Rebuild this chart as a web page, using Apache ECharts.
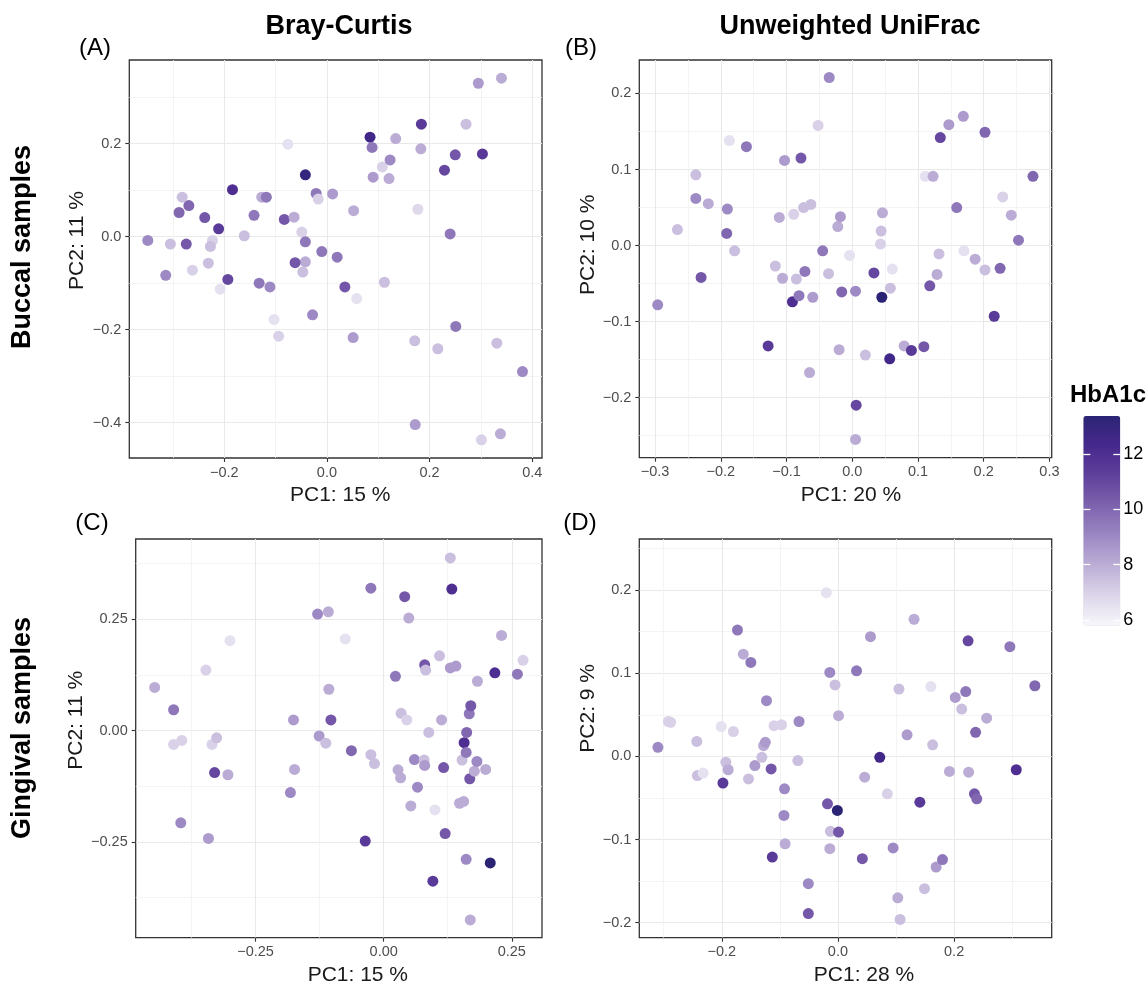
<!DOCTYPE html>
<html><head><meta charset="utf-8">
<script src="https://cdn.jsdelivr.net/npm/echarts@6/dist/echarts.min.js"></script>
<style>html,body{margin:0;padding:0;background:#fff}#chart{width:1147px;height:986px}</style>
</head><body><div id="chart"></div>
<script>
// ---- Panel A: Buccal, Bray-Curtis ----
const bucBrayX = [-0.349,-0.305,-0.314,-0.282,-0.288,-0.269,-0.274,-0.262,-0.238,-0.211,-0.223,-0.227,-0.231,-0.208,-0.193,-0.184,-0.161,-0.142,-0.132,-0.127,-0.118,-0.111,-0.103,-0.094,-0.083,-0.076,-0.064,-0.049,-0.042,-0.042,-0.042,-0.062,-0.047,-0.021,-0.017,-0.028,-0.010,0.011,0.020,0.035,0.052,0.051,0.058,0.084,0.088,0.090,0.108,0.112,0.123,0.121,0.134,0.171,0.172,0.177,0.183,0.184,0.216,0.229,0.240,0.250,0.251,0.271,0.295,0.301,0.303,0.331,0.338,0.340,0.381];
const bucBrayY = [-0.008,-0.016,-0.083,0.085,0.052,0.067,-0.016,-0.072,0.041,0.017,-0.008,-0.021,-0.057,-0.113,-0.092,0.101,0.002,0.046,-0.100,0.085,0.085,-0.108,-0.178,-0.214,0.037,0.199,0.042,0.010,0.133,-0.011,-0.054,-0.056,-0.076,0.093,0.081,-0.168,-0.032,0.092,-0.044,-0.108,0.056,-0.217,-0.133,0.214,0.192,0.128,0.150,-0.098,0.165,0.125,0.211,-0.224,-0.404,0.059,0.189,0.242,-0.241,0.143,0.006,0.176,-0.193,0.242,0.330,-0.437,0.178,-0.229,-0.424,0.341,-0.290];
const bucBrayHb = [9,7.5,9,7.5,10,10,10.5,7,10.5,11.5,7,7.5,7.5,6.5,11,12,7.5,9.5,9.5,8,9.5,9,6.5,7,10.5,6.5,8,7,13,9.5,8,10.5,7.5,9.5,7,9,9.5,8.5,9.5,10.5,8,8.5,6.5,12.5,9.5,8.5,7,7.5,9,8,8,7.5,8.5,6.8,8,11.5,7.5,11,9.5,10.5,9.5,7.5,8.5,7,11.5,7.5,8,8,9];

// ---- Panel B: Buccal, Unweighted UniFrac ----
const bucUniX = [-0.296,-0.266,-0.238,-0.238,-0.230,-0.219,-0.190,-0.191,-0.187,-0.179,-0.161,-0.128,-0.117,-0.111,-0.106,-0.103,-0.091,-0.089,-0.085,-0.081,-0.078,-0.074,-0.072,-0.063,-0.065,-0.060,-0.052,-0.045,-0.036,-0.035,-0.022,-0.020,-0.018,-0.016,-0.004,0.005,0.006,0.005,0.020,0.033,0.043,0.044,0.046,0.045,0.057,0.058,0.061,0.079,0.090,0.109,0.111,0.123,0.118,0.129,0.132,0.134,0.147,0.159,0.169,0.170,0.187,0.202,0.202,0.216,0.225,0.229,0.242,0.253,0.275];
const bucUniY = [-0.078,0.021,0.093,0.062,-0.042,0.055,0.048,0.016,0.138,-0.007,0.130,-0.132,-0.027,0.037,-0.043,0.112,-0.074,0.041,-0.044,-0.066,0.115,0.050,-0.034,0.054,-0.167,-0.068,0.158,-0.007,-0.037,0.221,0.025,-0.137,0.038,-0.061,-0.013,-0.060,-0.210,-0.255,-0.144,-0.036,0.002,0.019,0.043,-0.068,-0.149,-0.056,-0.031,-0.132,-0.138,-0.133,0.091,0.091,-0.053,-0.038,-0.011,0.142,0.159,0.050,0.170,-0.007,-0.018,-0.032,0.149,-0.093,-0.030,0.064,0.040,0.007,0.091];
const bucUniHb = [9,7.5,7.5,9,10.5,8,9,10,6.5,7.5,9.5,11.5,7.5,8,8,8.5,12,7,7.5,9.5,10.5,7.5,9.5,7.5,8,8.5,7,9.5,7.5,9,8,8,8.5,10,6.5,9,11,8,7.5,11,7,7.5,8,13.5,12.5,7.5,6.5,8,11.5,10.5,6.5,8,10.5,8,7.5,11,8.5,9.5,8.5,6.5,8,7.5,10,11.5,10,7,8,9.5,10];

// ---- Panel C: Gingival, Bray-Curtis ----
const ginBrayX = [-0.447,-0.410,-0.410,-0.394,-0.396,-0.347,-0.342,-0.335,-0.326,-0.330,-0.304,-0.300,-0.182,-0.176,-0.174,-0.129,-0.126,-0.113,-0.108,-0.107,-0.103,-0.075,-0.063,-0.036,-0.025,-0.025,-0.018,0.023,0.028,0.033,0.034,0.041,0.045,0.049,0.053,0.060,0.066,0.079,0.080,0.080,0.082,0.088,0.100,0.096,0.109,0.113,0.117,0.120,0.130,0.130,0.141,0.133,0.148,0.156,0.153,0.157,0.161,0.162,0.161,0.167,0.170,0.168,0.177,0.182,0.183,0.199,0.208,0.217,0.230,0.261,0.272,0.169];
const ginBrayY = [0.097,0.047,-0.031,-0.022,-0.207,0.136,-0.242,-0.031,-0.016,-0.094,-0.099,0.202,-0.139,0.024,-0.087,0.262,-0.012,-0.028,0.267,0.093,0.024,0.206,-0.045,-0.248,0.320,-0.054,-0.074,0.122,-0.088,-0.106,0.039,0.301,0.024,0.253,-0.169,-0.065,-0.127,-0.066,-0.078,0.148,0.136,-0.004,-0.178,-0.338,0.168,0.024,-0.083,-0.231,0.388,0.141,0.145,0.318,-0.163,-0.159,-0.066,-0.027,-0.049,-0.004,-0.289,0.038,0.056,-0.108,-0.091,-0.069,0.111,-0.087,-0.297,0.130,0.214,0.127,0.158,-0.425];
const ginBrayHb = [8,9.5,7,7,9,7,8.5,7,7.5,11,8,6.5,9,8.5,8,9,8.5,7.5,8,8,10.5,6.5,10,11.5,9.5,7.5,7.5,9.5,8,8,7.5,10.5,7,8,8,9,9,7.5,8.5,10.5,7.5,7.5,6.5,11.5,7.5,8,10.5,10.5,7.5,8.5,8.5,12,8,8,7.5,12,9.5,10,9,9.5,10.5,10.5,8,9,8,8,13.5,12,8,9.5,7,8];

// ---- Panel D: Gingival, Unweighted UniFrac ----
const ginUniX = [-0.310,-0.292,-0.288,-0.243,-0.242,-0.232,-0.201,-0.198,-0.193,-0.189,-0.180,-0.173,-0.163,-0.154,-0.150,-0.143,-0.131,-0.128,-0.125,-0.123,-0.115,-0.113,-0.110,-0.097,-0.092,-0.093,-0.091,-0.069,-0.067,-0.051,-0.051,-0.020,-0.018,-0.014,-0.014,-0.013,-0.005,-0.001,0.001,0.001,0.032,0.042,0.046,0.056,0.072,0.085,0.095,0.103,0.105,0.107,0.119,0.131,0.141,0.149,0.160,0.163,0.169,0.180,0.192,0.202,0.213,0.220,0.224,0.225,0.235,0.239,0.237,0.256,0.296,0.307,0.339];
const ginUniY = [0.011,0.042,0.041,0.018,-0.023,-0.020,0.036,-0.032,-0.007,-0.016,0.030,0.152,0.123,-0.027,0.113,-0.011,-0.001,0.013,0.017,0.067,-0.015,-0.121,0.037,0.038,-0.039,-0.071,-0.105,-0.005,0.042,-0.153,-0.189,0.197,-0.057,0.101,-0.111,-0.090,0.086,-0.065,-0.091,0.049,0.103,-0.123,-0.025,0.144,-0.001,-0.045,-0.110,-0.170,0.081,-0.196,0.026,0.165,-0.055,-0.159,0.084,0.014,-0.133,-0.124,-0.018,0.071,0.057,0.078,0.139,-0.019,-0.045,-0.051,0.029,0.046,0.132,-0.016,0.085];
const ginUniHb = [9,7,7,7.5,7.5,6.5,6.5,11.5,7.5,8,7,9.5,8,7.5,9.5,8.5,7.5,8,8.5,9,10.5,11.5,7,7,9,9,8,7.5,9,9,10.5,6.5,10.5,9,8,7.5,7.5,13.5,10.5,8,9.5,10.5,8,8.5,12.5,7,9,8,7.5,7.5,8.5,8,11.5,7.5,6.5,7.5,8.5,9.5,8,8.5,7.5,9.5,11,8,10.5,10,10,8,9.5,12,10];

// ---- Tick labels ----
const ticksAx = ['-0.2','0.0','0.2','0.4'];
const ticksAy = ['-0.4','-0.2','0.0','0.2'];
const minorAx = [-0.3,-0.1,0.1,0.3];
const minorAy = [-0.3,-0.1,0.1,0.3];
const ticksBx = ['-0.3','-0.2','-0.1','0.0','0.1','0.2','0.3'];
const ticksBy = ['-0.2','-0.1','0.0','0.1','0.2'];
const minorBx = [-0.25,-0.15,-0.05,0.05,0.15,0.25];
const minorBy = [-0.25,-0.15,-0.05,0.05,0.15];
const ticksCx = ['-0.25','0.00','0.25'];
const ticksCy = ['-0.25','0.00','0.25'];
const minorCx = [-0.375,-0.125,0.125];
const minorCy = [-0.375,-0.125,0.125,0.375];
const ticksDx = ['-0.2','0.0','0.2'];
const ticksDy = ['-0.2','-0.1','0.0','0.1','0.2'];
const minorDx = [-0.3,-0.1,0.1,0.3];
const minorDy = [-0.15,-0.05,0.05,0.15,0.25];
const legendTicks = ['6','8','10','12'];
const hbMin = 5.79, hbMax = 13.37;

const colTitles = ['Bray-Curtis','Unweighted UniFrac'];
const rowTitles = ['Buccal samples','Gingival samples'];
const panelTags = ['(A)','(B)','(C)','(D)'];
const xNames = ['PC1: 15 %','PC1: 20 %','PC1: 15 %','PC1: 28 %'];
const yNames = ['PC2: 11 %','PC2: 10 %','PC2: 11 %','PC2: 9 %'];

const FONT = "'Liberation Sans', Arial, Helvetica, sans-serif";

const panels = [
  {x:bucBrayX,y:bucBrayY,hb:bucBrayHb,tx:ticksAx,ty:ticksAy,mx:minorAx,my:minorAy,
   rect:[129.3,60,412.7,398],xr:[-0.385,0.419],yr:[-0.476,0.38],xPad:9,yPad:37,yGap:42},
  {x:bucUniX,y:bucUniY,hb:bucUniHb,tx:ticksBx,ty:ticksBy,mx:minorBx,my:minorBy,
   rect:[639.3,60,412.4,397.7],xr:[-0.324,0.3035],yr:[-0.279,0.244],xPad:11,yPad:28,yGap:41},
  {x:ginBrayX,y:ginBrayY,hb:ginBrayHb,tx:ticksCx,ty:ticksCy,mx:minorCx,my:minorCy,
   rect:[135.7,539,406.3,398.7],xr:[-0.484,0.309],yr:[-0.465,0.4305],xPad:38,yPad:36,yGap:48},
  {x:ginUniX,y:ginUniY,hb:ginUniHb,tx:ticksDx,ty:ticksDy,mx:minorDx,my:minorDy,
   rect:[639.3,539,412.4,398.7],xr:[-0.342,0.368],yr:[-0.218,0.2615],xPad:37,yPad:60,yGap:41}
];

function fmtFor(labels){
  return function(v){
    for (const s of labels){ if (Math.abs(Number(s)-v) < 1e-9) return s.replace('-','\u2212'); }
    return '';
  };
}

const grids = [], xAxes = [], yAxes = [], series = [];
panels.forEach((p,i)=>{
  grids.push({left:p.rect[0],top:p.rect[1],width:p.rect[2],height:p.rect[3],show:true,
    borderColor:'#333333',borderWidth:1.3,backgroundColor:'transparent',outerBoundsMode:'none'});
});
panels.forEach((p,i)=>{
  grids.push({left:p.rect[0],top:p.rect[1],width:p.rect[2],height:p.rect[3],show:false,outerBoundsMode:'none'});
});
// major axes
panels.forEach((p,i)=>{
  const xv = p.tx.map(Number), yv = p.ty.map(Number);
  xAxes.push({gridIndex:i,type:'value',min:p.xr[0],max:p.xr[1],position:'bottom',
    axisLine:{show:false,onZero:false},
    axisTick:{show:true,customValues:xv,length:4,lineStyle:{color:'#333333',width:1.1}},
    axisLabel:{customValues:xv,formatter:fmtFor(p.tx),color:'#4d4d4d',fontSize:14.5,margin:7,fontFamily:FONT},
    splitLine:{show:true,lineStyle:{color:'#e9e9e9',width:1.1}},
    name:xNames[i],nameLocation:'middle',nameGap:27,
    nameTextStyle:{fontSize:21,color:'#1a1a1a',fontFamily:FONT,padding:[0,0,0,p.xPad]}});
  yAxes.push({gridIndex:i,type:'value',min:p.yr[0],max:p.yr[1],position:'left',
    axisLine:{show:false,onZero:false},
    axisTick:{show:true,customValues:yv,length:4,lineStyle:{color:'#333333',width:1.1}},
    axisLabel:{customValues:yv,formatter:fmtFor(p.ty),color:'#4d4d4d',fontSize:14.5,margin:8,fontFamily:FONT},
    splitLine:{show:true,lineStyle:{color:'#e9e9e9',width:1.1}},
    name:yNames[i],nameLocation:'middle',nameGap:p.yGap,
    nameTextStyle:{fontSize:21,color:'#1a1a1a',fontFamily:FONT,padding:[0,0,0,p.yPad]}});
});
// minor gridline axes
panels.forEach((p,i)=>{
  xAxes.push({gridIndex:i+4,type:'value',min:p.xr[0],max:p.xr[1],position:'bottom',
    axisLine:{show:false,onZero:false},axisTick:{show:false,customValues:p.mx},axisLabel:{show:false},
    splitLine:{show:true,lineStyle:{color:'#f1f1f1',width:0.8}}});
  yAxes.push({gridIndex:i+4,type:'value',min:p.yr[0],max:p.yr[1],position:'left',
    axisLine:{show:false,onZero:false},axisTick:{show:false,customValues:p.my},axisLabel:{show:false},
    splitLine:{show:true,lineStyle:{color:'#f1f1f1',width:0.8}}});
});
// legend colour bar axes
grids.push({left:1083.3,top:416,width:37,height:209.7,show:false,outerBoundsMode:'none'});
const lv = legendTicks.map(Number);
xAxes.push({gridIndex:8,type:'value',min:0,max:1,show:false,axisLine:{onZero:false}});
yAxes.push({gridIndex:8,type:'value',min:hbMin,max:hbMax,position:'right',z:10,
  axisLine:{show:false,onZero:false},
  axisTick:{show:true,inside:true,customValues:lv,length:7,lineStyle:{color:'#ffffff',width:1.3}},
  axisLabel:{customValues:lv,color:'#000000',fontSize:18,margin:3,fontFamily:FONT},
  splitLine:{show:false}});
yAxes.push({gridIndex:8,type:'value',min:hbMin,max:hbMax,position:'left',z:10,
  axisLine:{show:false,onZero:false},
  axisTick:{show:true,inside:true,customValues:lv,length:7,lineStyle:{color:'#ffffff',width:1.3}},
  axisLabel:{show:false},splitLine:{show:false}});

panels.forEach((p,i)=>{
  series.push({type:'scatter',xAxisIndex:i,yAxisIndex:i,symbolSize:11,
    itemStyle:{opacity:1},emphasis:{disabled:true},
    data:p.x.map((v,k)=>[v,p.y[k],p.hb[k]])});
});

const graphic = [
  {type:'text',x:339,y:27,style:{text:colTitles[0],fontSize:27,fontWeight:'bold',fontFamily:FONT,fill:'#000',align:'center',verticalAlign:'middle'}},
  {type:'text',x:850,y:27,style:{text:colTitles[1],fontSize:27,fontWeight:'bold',fontFamily:FONT,fill:'#000',align:'center',verticalAlign:'middle'}},
  {type:'text',x:23,y:247,rotation:Math.PI/2,style:{text:rowTitles[0],fontSize:27,fontWeight:'bold',fontFamily:FONT,fill:'#000',align:'center',verticalAlign:'middle'}},
  {type:'text',x:23,y:728,rotation:Math.PI/2,style:{text:rowTitles[1],fontSize:27,fontWeight:'bold',fontFamily:FONT,fill:'#000',align:'center',verticalAlign:'middle'}},
  {type:'text',x:95,y:48,style:{text:panelTags[0],fontSize:24,fontFamily:FONT,fill:'#000',align:'center',verticalAlign:'middle'}},
  {type:'text',x:581,y:48,style:{text:panelTags[1],fontSize:24,fontFamily:FONT,fill:'#000',align:'center',verticalAlign:'middle'}},
  {type:'text',x:92,y:523,style:{text:panelTags[2],fontSize:24,fontFamily:FONT,fill:'#000',align:'center',verticalAlign:'middle'}},
  {type:'text',x:580,y:523,style:{text:panelTags[3],fontSize:24,fontFamily:FONT,fill:'#000',align:'center',verticalAlign:'middle'}},
  {type:'text',x:1108,y:395,style:{text:'HbA1c',fontSize:24,fontWeight:'bold',fontFamily:FONT,fill:'#000',align:'center',verticalAlign:'middle'}}
];

const chart = echarts.init(document.getElementById('chart'), null, {renderer:'canvas'});
chart.setOption({
  animation:false,
  backgroundColor:'#ffffff',
  grid:grids, xAxis:xAxes, yAxis:yAxes, series:series, graphic:graphic,
  visualMap:{type:'continuous',min:hbMin,max:hbMax,dimension:2,seriesIndex:[0,1,2,3],
    left:1083.3,top:416,itemWidth:37,itemHeight:209.7,calculable:false,showLabel:false,
    text:null,padding:0,hoverLink:false,z:1,
    inRange:{color:['#f8f7fb','#ddd6ea','#bcaed6','#9c88c3','#7e63ae','#60419c','#47298d','#2b2474']}}
});
</script></body></html>
